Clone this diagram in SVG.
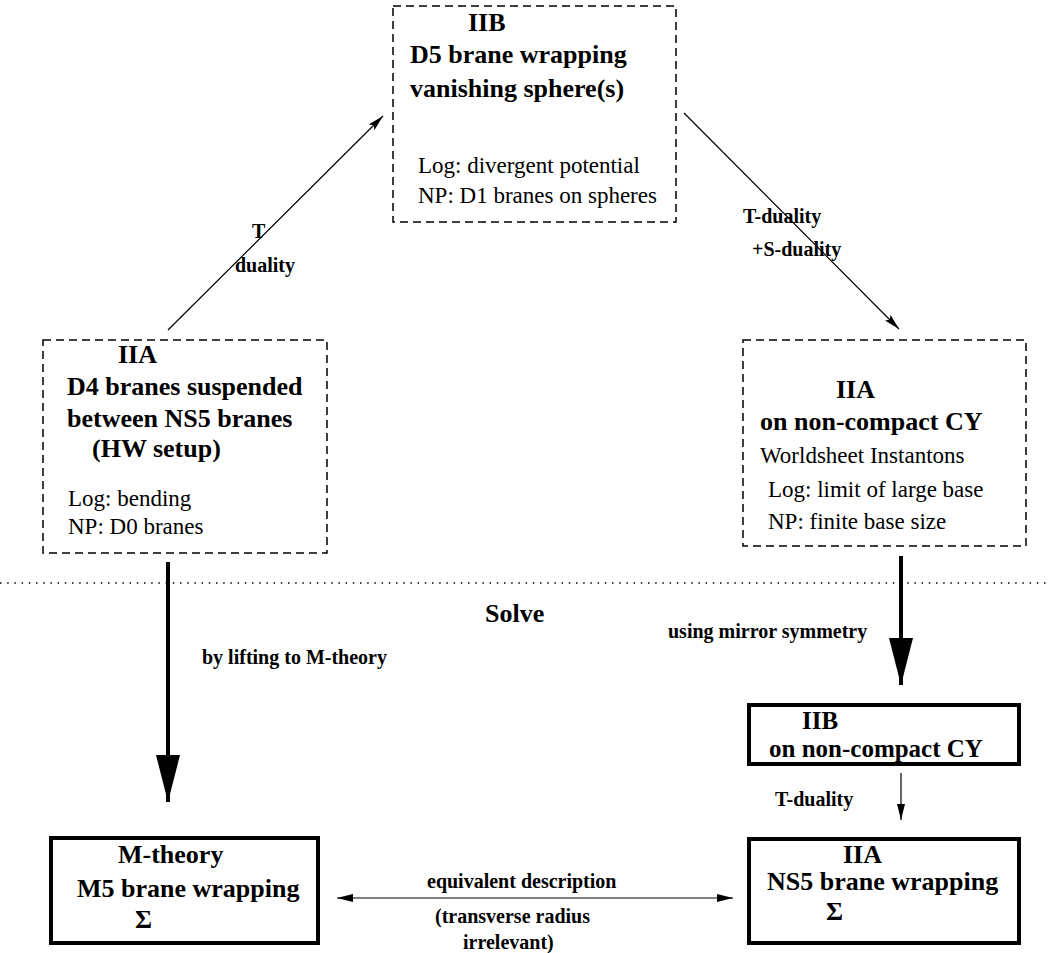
<svg xmlns="http://www.w3.org/2000/svg" width="1051" height="953" viewBox="0 0 1051 953">
<style>
text{font-family:"Liberation Serif","Times New Roman",serif;fill:#000}
.t{font-size:26px;font-weight:bold}
.r{font-size:23px}
.l{font-size:20px;font-weight:bold}
.dash{fill:#fff;stroke:#000;stroke-width:1.5;stroke-dasharray:8 5}
.solid{fill:#fff;stroke:#000;stroke-width:4}
.thin{stroke:#000;stroke-width:1.2;fill:none}
.thick{stroke:#000;stroke-width:4;fill:none}
</style>
<defs>
<marker id="ah" markerUnits="userSpaceOnUse" markerWidth="16" markerHeight="8" refX="16" refY="4" orient="auto">
<path d="M0,0 L16,4 L0,8 L3,4 z" fill="#000"/>
</marker>
<marker id="ahs" markerUnits="userSpaceOnUse" markerWidth="16" markerHeight="8" refX="16" refY="4" orient="auto-start-reverse">
<path d="M0,0 L16,4 L0,8 z" fill="#000"/>
</marker>
<marker id="ahb" markerUnits="userSpaceOnUse" markerWidth="48" markerHeight="24" refX="47" refY="12" orient="auto">
<path d="M0,0 L47,12 L0,24 z" fill="#000"/>
</marker>
</defs>

<line x1="0" y1="583" x2="1051" y2="583" stroke="#000" stroke-width="1.5" stroke-dasharray="1.5 5.7"/>

<g id="connectors">
<line class="thin" x1="168" y1="330" x2="383" y2="116" marker-end="url(#ah)"/>
<line class="thin" x1="684" y1="113" x2="899" y2="329" marker-end="url(#ah)"/>
<line class="thick" x1="168" y1="562" x2="168" y2="802" marker-end="url(#ahb)"/>
<line class="thick" x1="901" y1="556" x2="901" y2="685" marker-end="url(#ahb)"/>
<line class="thin" x1="901" y1="773" x2="901" y2="820" marker-end="url(#ahs)"/>
<line class="thin" x1="337" y1="898" x2="733" y2="898" marker-start="url(#ahs)" marker-end="url(#ahs)"/>
<text class="l" x="252" y="238">T</text>
<text class="l" x="235" y="272">duality</text>
<text class="l" x="743" y="223">T-duality</text>
<text class="l" x="752" y="256">+S-duality</text>
<text class="t" x="485" y="622">Solve</text>
<text class="l" x="202" y="664">by lifting to M-theory</text>
<text class="l" x="668" y="638">using mirror symmetry</text>
<text class="l" x="775" y="806">T-duality</text>
<text class="l" x="427" y="888">equivalent description</text>
<text class="l" x="435" y="923">(transverse radius</text>
<text class="l" x="463" y="949">irrelevant)</text>
</g>

<g id="node-iib-top">
<rect class="dash" x="393" y="6" width="283" height="216"/>
<text class="t" x="468" y="31">IIB</text>
<text class="t" x="410" y="63">D5 brane wrapping</text>
<text class="t" x="410" y="97">vanishing sphere(s)</text>
<text class="r" x="418" y="173">Log: divergent potential</text>
<text class="r" x="418" y="203">NP: D1 branes on spheres</text>
</g>

<g id="node-iia-left">
<rect class="dash" x="43" y="340" width="284" height="213"/>
<text class="t" x="118" y="363">IIA</text>
<text class="t" x="67" y="395">D4 branes suspended</text>
<text class="t" x="67" y="427">between NS5 branes</text>
<text class="t" x="92" y="457">(HW setup)</text>
<text class="r" x="68" y="506">Log: bending</text>
<text class="r" x="68" y="534">NP: D0 branes</text>
</g>

<g id="node-iia-right">
<rect class="dash" x="743" y="340" width="283" height="206"/>
<text class="t" x="836" y="398">IIA</text>
<text class="t" x="760" y="430">on non-compact CY</text>
<text class="r" x="760" y="463">Worldsheet Instantons</text>
<text class="r" x="768" y="497">Log: limit of large base</text>
<text class="r" x="768" y="529">NP: finite base size</text>
</g>

<g id="node-iib-bottom">
<rect class="solid" x="749" y="705" width="270" height="59"/>
<text class="t" x="802" y="729" style="font-size:25px">IIB</text>
<text class="t" x="769" y="757" style="font-size:25px">on non-compact CY</text>
</g>

<g id="node-mtheory">
<rect class="solid" x="51" y="838" width="267" height="105"/>
<text class="t" x="118" y="863">M-theory</text>
<text class="t" x="77" y="897">M5 brane wrapping</text>
<text class="t" x="135" y="928">Σ</text>
</g>

<g id="node-iia-ns5">
<rect class="solid" x="749" y="839" width="270" height="104"/>
<text class="t" x="843" y="863">IIA</text>
<text class="t" x="767" y="890">NS5 brane wrapping</text>
<text class="t" x="826" y="920">Σ</text>
</g>
</svg>
